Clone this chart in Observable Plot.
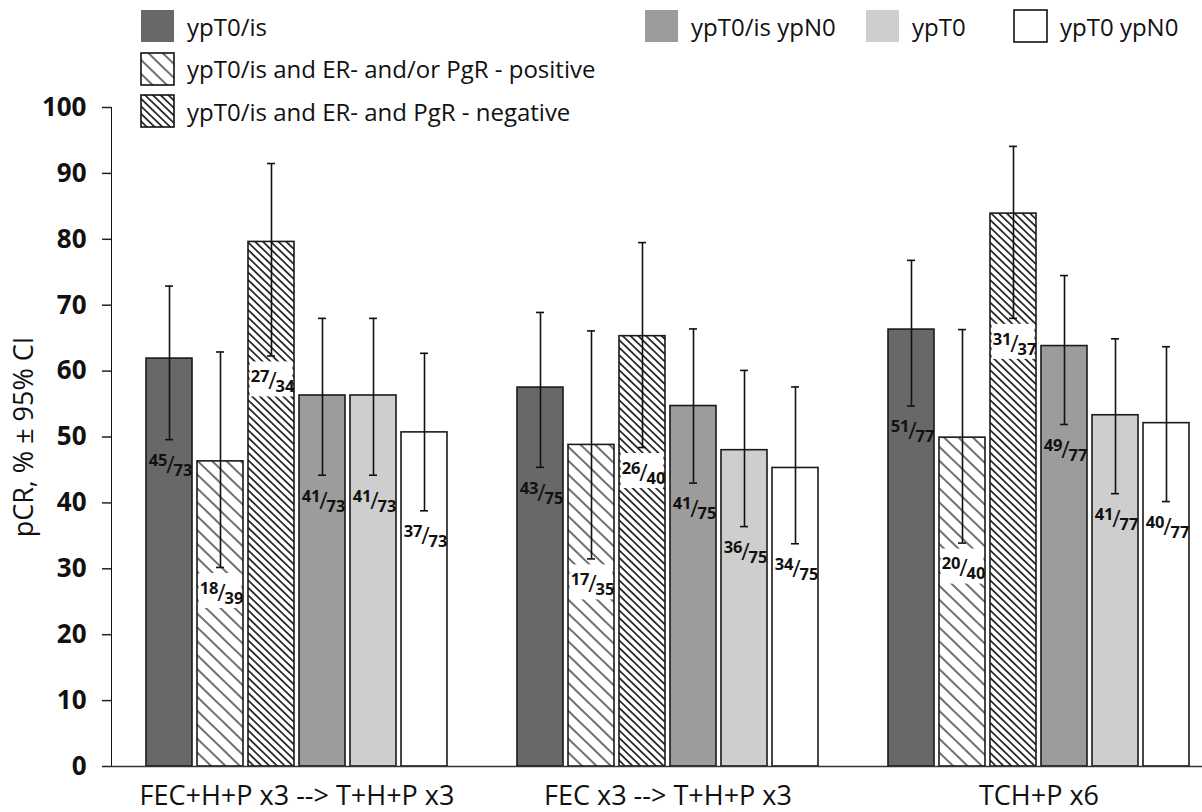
<!DOCTYPE html>
<html>
<head>
<meta charset="utf-8">
<script src="https://cdn.jsdelivr.net/npm/d3@7"></script>
<script src="https://cdn.jsdelivr.net/npm/@observablehq/plot@0.6"></script>
<style>
  html, body { margin: 0; padding: 0; background: white; overflow: hidden; }
  #wrap { position: relative; width: 1202px; height: 812px; font-family: "Open Sans", sans-serif; color: #111; }
  #chart svg { display: block; }
  .legend { position: absolute; display: flex; }
  .legend.left { left: 140px; top: 9px; flex-direction: column; gap: 8.5px; }
  .legend.right { left: 644px; top: 9px; flex-direction: row; }
  .item { display: flex; align-items: center; height: 34px; font-size: 24px; white-space: nowrap; }
  .item svg { flex: none; margin-right: 12px; }
  .legend.right .item:nth-child(1) { width: 221px; }
  .legend.right .item:nth-child(2) { width: 148px; }
  g[aria-label="y-axis tick label"] text, g[aria-label="y-axis"] g text { font-size: 26px; font-weight: bold; fill: #111; }
  g[aria-label="y-axis label"] text, g[aria-label="y-axis"] > text { font-size: 27px; font-weight: normal; fill: #111; }
  g[aria-label="fx-axis tick label"] text, g[aria-label="fx-axis"] g text { font-size: 27px; fill: #111; }
  g[aria-label="y-axis tick"] path, g[aria-label="y-axis"] line { stroke-width: 1.5px; stroke: #222; }
</style>
</head>
<body>
<svg width="0" height="0" style="position:absolute">
  <defs>
    <pattern id="hatchPos" patternUnits="userSpaceOnUse" width="10" height="10" patternTransform="rotate(44)">
      <rect width="10" height="10" fill="white"></rect>
      <line x1="0" y1="5" x2="10" y2="5" stroke="#222" stroke-width="1.3"></line>
    </pattern>
    <pattern id="hatchNeg" patternUnits="userSpaceOnUse" width="5.4" height="5.4" patternTransform="rotate(44)">
      <rect width="5.4" height="5.4" fill="white"></rect>
      <line x1="0" y1="2.7" x2="5.4" y2="2.7" stroke="#111" stroke-width="1.6"></line>
    </pattern>
  </defs>
</svg>
<div id="wrap">
  <div id="chart"></div>
  <div class="legend left" id="legLeft"></div>
  <div class="legend right" id="legRight"></div>
</div>
<script>
// ---- data ----
const groups = ["FEC+H+P x3 --> T+H+P x3", "FEC x3 --> T+H+P x3", "TCH+P x6"];
const series = [
  "ypT0/is",
  "ypT0/is and ER- and/or PgR - positive",
  "ypT0/is and ER- and PgR - negative",
  "ypT0/is ypN0",
  "ypT0",
  "ypT0 ypN0"
];
const pcrValues = [
  [61.9, 46.3, 79.6, 56.3, 56.3, 50.7],
  [57.5, 48.8, 65.3, 54.7, 48.0, 45.3],
  [66.3, 49.9, 83.9, 63.8, 53.3, 52.1]
];
const ciLower = [
  [49.6, 30.2, 62.3, 44.2, 44.2, 38.8],
  [45.4, 31.5, 48.4, 43.0, 36.4, 33.8],
  [54.7, 33.9, 68.0, 51.9, 41.4, 40.2]
];
const ciUpper = [
  [72.9, 62.9, 91.5, 68.0, 68.0, 62.7],
  [68.9, 66.1, 79.5, 66.4, 60.1, 57.6],
  [76.8, 66.3, 94.1, 74.5, 64.9, 63.7]
];
const numerators = [
  [45, 18, 27, 41, 41, 37],
  [43, 17, 26, 41, 36, 34],
  [51, 20, 31, 49, 41, 40]
];
const denominators = [
  [73, 39, 34, 73, 73, 73],
  [75, 35, 40, 75, 75, 75],
  [77, 40, 37, 77, 77, 77]
];
const yTicks = [0, 10, 20, 30, 40, 50, 60, 70, 80, 90, 100];
const yLabel = "pCR, % ± 95% CI";

// ---- styles ----
const fills = ["#686868", "url(#hatchPos)", "url(#hatchNeg)", "#9c9c9c", "#cecece", "#ffffff"];
const hatched = new Set([series[1], series[2]]);
const bordered = new Set([series[1], series[2], series[5]]);

const rows = groups.flatMap((g, i) => series.map((s, j) => ({
  group: g, series: s,
  pcr: pcrValues[i][j], lo: ciLower[i][j], hi: ciUpper[i][j],
  num: numerators[i][j], den: denominators[i][j]
})));

const common = {fx: "group", x: "series"};
const labelFont = {fontFamily: "'Open Sans', sans-serif", fontWeight: "bold", fill: "#111"};

const chart = Plot.plot({
  width: 1202,
  height: 812,
  marginLeft: 110,
  marginRight: -22,
  marginTop: 107,
  marginBottom: 46,
  style: {fontFamily: "'Open Sans', sans-serif", background: "white", color: "#111"},
  fx: {domain: groups, padding: 0, axis: "bottom", label: null, tickSize: 0, tickPadding: 19},
  x: {domain: series, paddingInner: 0.1, paddingOuter: 0.68, axis: null},
  y: {domain: [0, 100], ticks: yTicks, tickSize: 9, tickPadding: 16, label: yLabel,
      labelAnchor: "center", labelOffset: 98, labelArrow: "none", line: true},
  color: {domain: series, range: fills},
  marks: [
    Plot.barY(rows, {...common, y: "pcr", fill: "series", stroke: "#1a1a1a", strokeWidth: 1.6}),
    Plot.barY(rows, {...common, filter: d => hatched.has(d.series), y1: "lo", y2: "lo",
      insetTop: 6, insetBottom: -41, insetLeft: 1.6, insetRight: 1.6, fill: "white"}),
    Plot.ruleY([0], {stroke: "#333", strokeWidth: 1.6}),
    Plot.ruleX(rows, {...common, y1: "lo", y2: "hi", stroke: "#111", strokeWidth: 1.6}),
    Plot.tickY(rows, {...common, y: "lo", insetLeft: 19, insetRight: 19, stroke: "#111", strokeWidth: 1.6}),
    Plot.tickY(rows, {...common, y: "hi", insetLeft: 19, insetRight: 19, stroke: "#111", strokeWidth: 1.6}),
    Plot.text(rows, {...common, y: "lo", text: "num", textAnchor: "end", dx: -2, dy: 21, fontSize: 16.5, ...labelFont}),
    Plot.text(rows, {...common, y: "lo", text: () => "/", textAnchor: "middle", dx: 1, dy: 26, fontSize: 23, ...labelFont, fontWeight: "normal"}),
    Plot.text(rows, {...common, y: "lo", text: "den", textAnchor: "start", dx: 4, dy: 31, fontSize: 16.5, ...labelFont})
  ]
});
document.getElementById("chart").appendChild(chart);

// ---- legend ----
function swatch(s, i) {
  const border = bordered.has(s) ? `stroke="#111" stroke-width="1.6"` : "";
  return `<svg width="35" height="34"><rect x="1" y="1" width="33" height="32" fill="${fills[i]}" ${border}></rect></svg>`;
}
const leftItems = [0, 1, 2], rightItems = [3, 4, 5];
document.getElementById("legLeft").innerHTML = leftItems.map(i =>
  `<div class="item">${swatch(series[i], i)}<span>${series[i]}</span></div>`).join("");
document.getElementById("legRight").innerHTML = rightItems.map(i =>
  `<div class="item">${swatch(series[i], i)}<span>${series[i]}</span></div>`).join("");
</script>
</body>
</html>
